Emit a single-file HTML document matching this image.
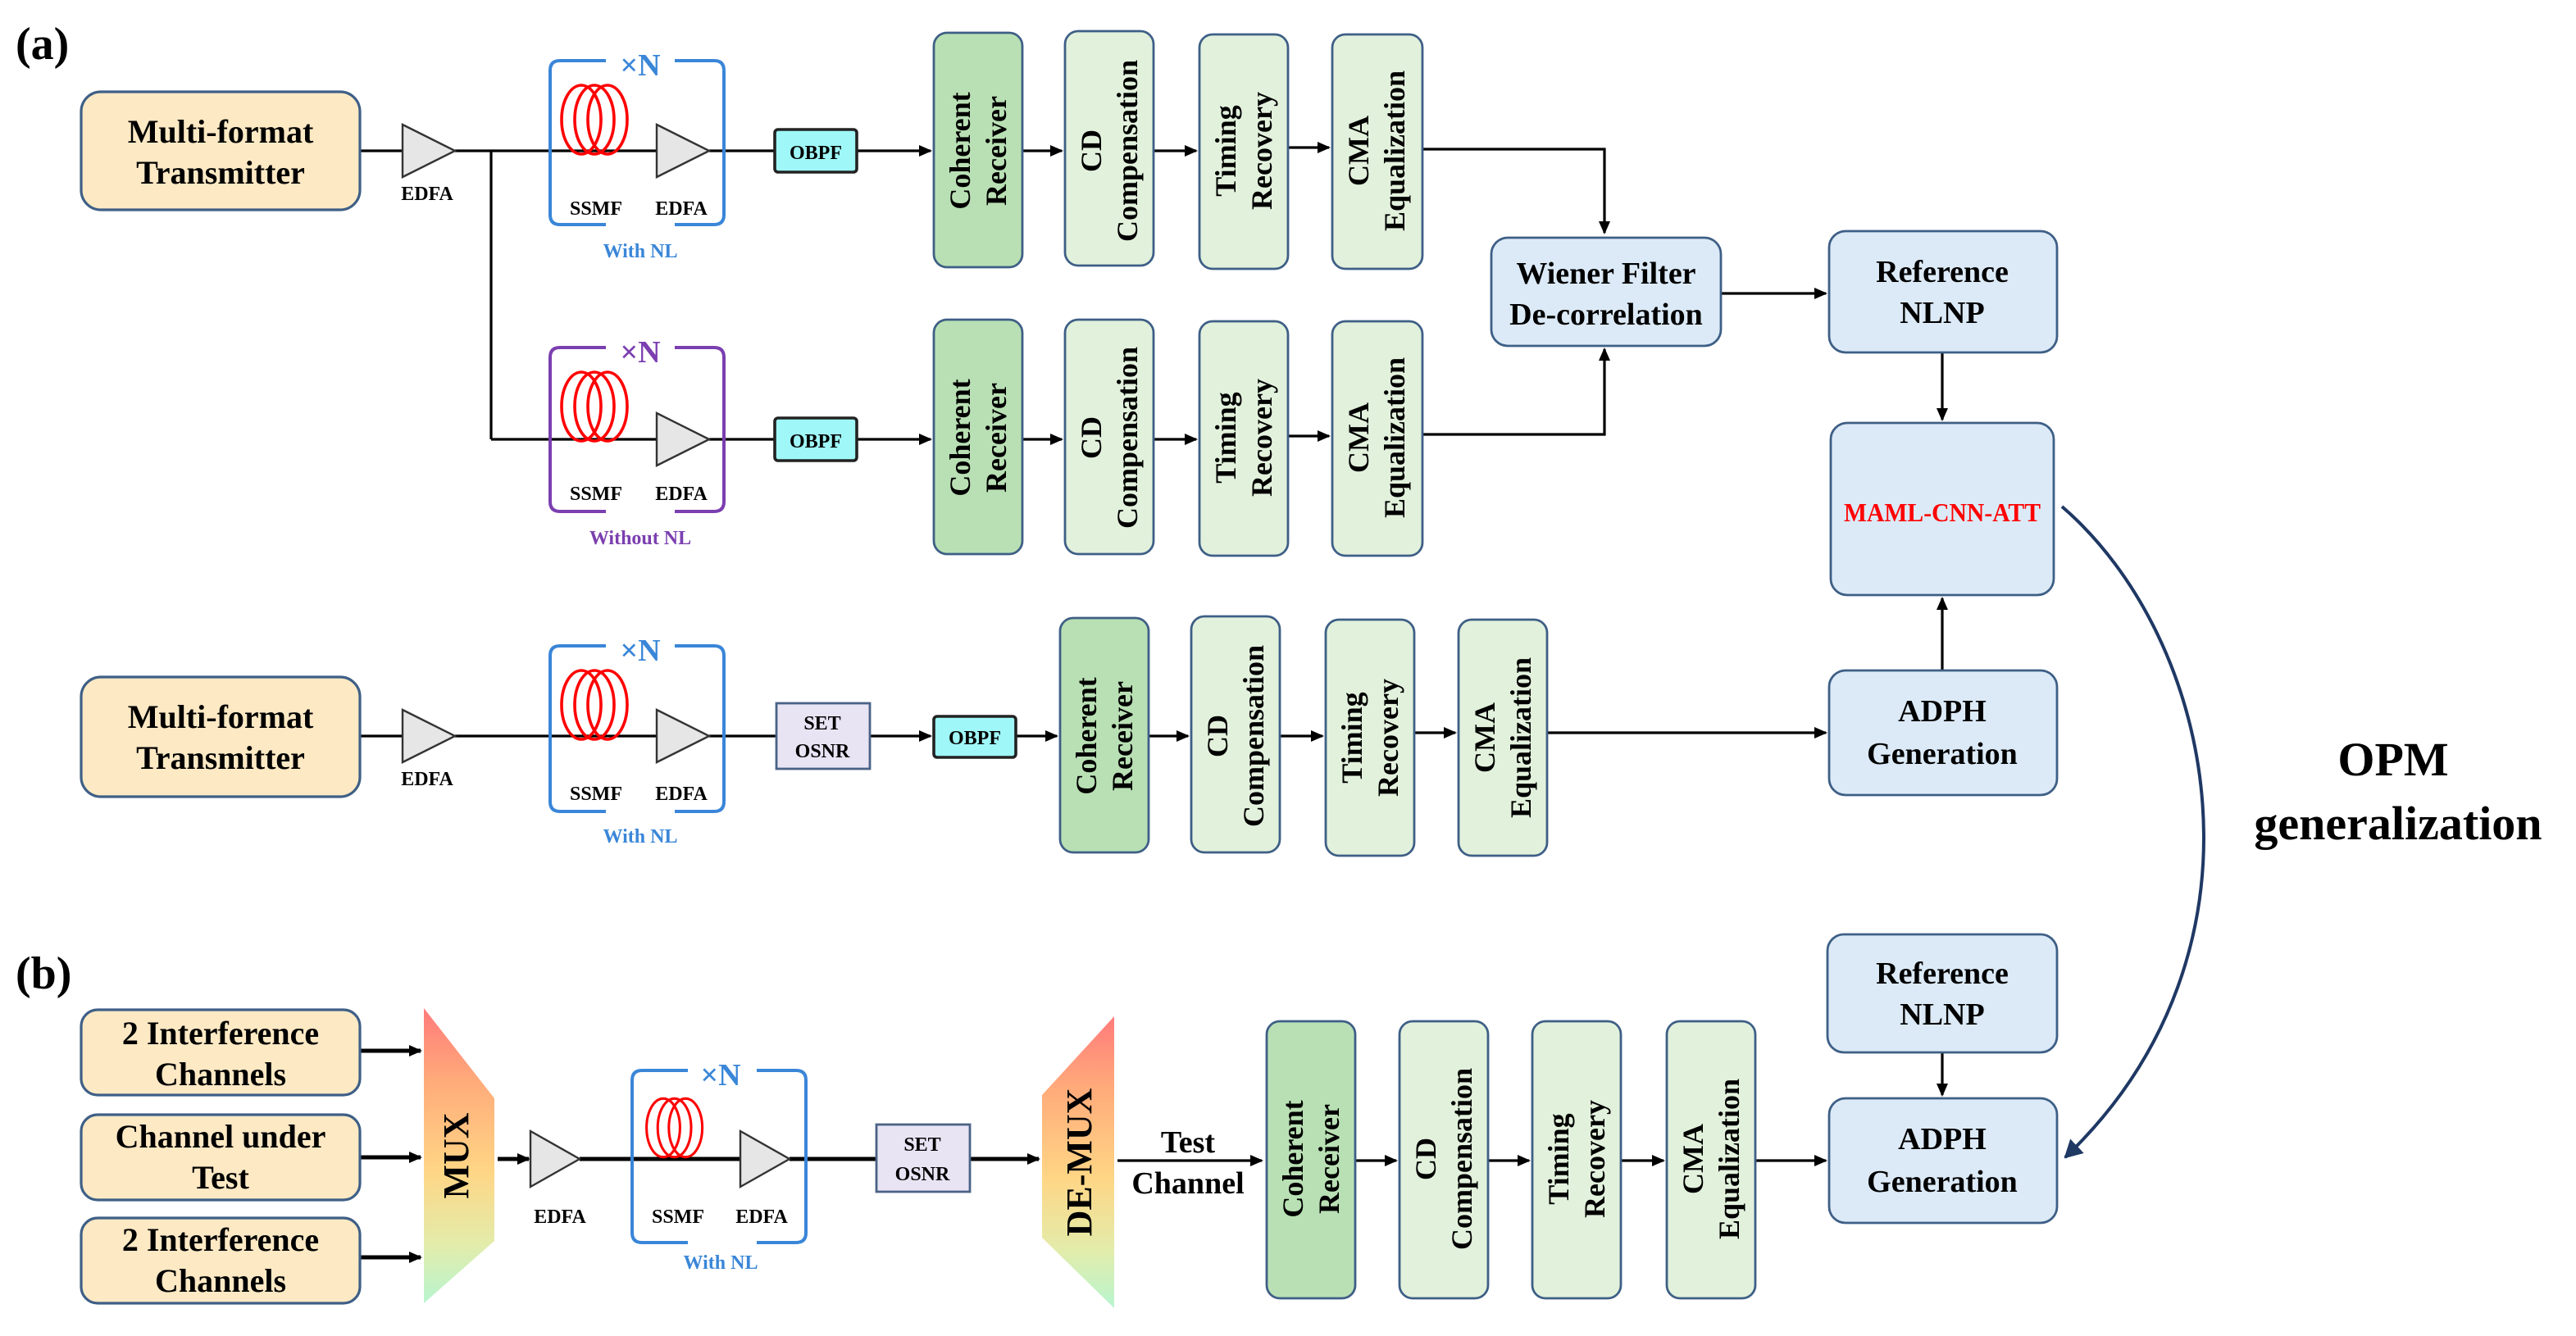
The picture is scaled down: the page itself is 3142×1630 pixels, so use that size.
<!DOCTYPE html>
<html><head><meta charset="utf-8"><style>
html,body{margin:0;padding:0;background:#fff;}
svg{display:block;}
text{font-family:"Liberation Serif",serif;font-weight:bold;}
</style></head><body>
<svg width="3142" height="1630" viewBox="0 0 1568 815" xmlns="http://www.w3.org/2000/svg">
<defs>
<marker id="ar" markerWidth="8" markerHeight="8" refX="7" refY="4" orient="auto" markerUnits="userSpaceOnUse"><path d="M0,0.5 L8,4 L0,7.5 z" fill="#000"/></marker>
<marker id="arn" markerWidth="12" markerHeight="12" refX="10" refY="6" orient="auto" markerUnits="userSpaceOnUse"><path d="M0,0 L11,6 L0,12 z" fill="#1f3864"/></marker>
<linearGradient id="gm" x1="0" y1="0" x2="0" y2="1">
<stop offset="0" stop-color="#ff7b7b"/><stop offset="0.25" stop-color="#ffab7a"/><stop offset="0.55" stop-color="#ffd585"/><stop offset="0.8" stop-color="#e3ecaa"/><stop offset="1" stop-color="#b8f5d0"/></linearGradient>
<g id="coil" fill="none" stroke="#f00" stroke-width="1.8">
<ellipse cx="0" cy="0" rx="12" ry="21"/><ellipse cx="8" cy="0" rx="12" ry="21"/><ellipse cx="16" cy="0" rx="12" ry="21"/></g>
</defs>

<text x="8" y="36" font-size="28">(a)</text>
<text x="8" y="603" font-size="28">(b)</text>

<g stroke="#000" stroke-width="1.6" fill="none">
<line x1="218" y1="92" x2="244" y2="92"/>
<line x1="276" y1="92" x2="400" y2="92"/>
<line x1="298" y1="92" x2="298" y2="268"/>
<line x1="298" y1="268" x2="400" y2="268"/>
<line x1="431" y1="92" x2="471" y2="92"/>
<line x1="431" y1="268" x2="471" y2="268"/>
<line x1="521" y1="92" x2="566" y2="92" marker-end="url(#ar)"/>
<line x1="521" y1="268" x2="566" y2="268" marker-end="url(#ar)"/>
<line x1="622" y1="92" x2="646" y2="92" marker-end="url(#ar)"/>
<line x1="702" y1="92" x2="728" y2="92" marker-end="url(#ar)"/>
<line x1="784" y1="90" x2="809" y2="90" marker-end="url(#ar)"/>
<line x1="622" y1="268" x2="646" y2="268" marker-end="url(#ar)"/>
<line x1="702" y1="268" x2="728" y2="268" marker-end="url(#ar)"/>
<line x1="784" y1="266" x2="809" y2="266" marker-end="url(#ar)"/>
<polyline points="866,91 977,91 977,142" marker-end="url(#ar)"/>
<polyline points="866,265 977,265 977,213" marker-end="url(#ar)"/>
<line x1="1048" y1="179" x2="1112" y2="179" marker-end="url(#ar)"/>
<line x1="1183" y1="215" x2="1183" y2="256" marker-end="url(#ar)"/>
<line x1="1183" y1="409" x2="1183" y2="365" marker-end="url(#ar)"/>
<line x1="218" y1="449" x2="244" y2="449"/>
<line x1="276" y1="449" x2="400" y2="449"/>
<line x1="431" y1="449" x2="472" y2="449"/>
<line x1="529" y1="449" x2="566" y2="449" marker-end="url(#ar)"/>
<line x1="618" y1="449" x2="643" y2="449" marker-end="url(#ar)"/>
<line x1="699" y1="449" x2="723" y2="449" marker-end="url(#ar)"/>
<line x1="779" y1="449" x2="805" y2="449" marker-end="url(#ar)"/>
<line x1="861" y1="447" x2="886" y2="447" marker-end="url(#ar)"/>
<line x1="942" y1="447" x2="1112" y2="447" marker-end="url(#ar)"/>
<line x1="218" y1="641" x2="255" y2="641" stroke-width="2.5" marker-end="url(#ar)"/>
<line x1="218" y1="706" x2="255" y2="706" stroke-width="2.5" marker-end="url(#ar)"/>
<line x1="218" y1="767" x2="255" y2="767" stroke-width="2.5" marker-end="url(#ar)"/>
<line x1="302" y1="707" x2="321" y2="707" stroke-width="2.5" marker-end="url(#ar)"/>
<line x1="352" y1="707" x2="452" y2="707" stroke-width="2.5"/>
<line x1="480" y1="707" x2="533" y2="707" stroke-width="2.5"/>
<line x1="590" y1="707" x2="632" y2="707" stroke-width="2.5" marker-end="url(#ar)"/>
<line x1="680" y1="708" x2="768" y2="708" marker-end="url(#ar)"/>
<line x1="825" y1="708" x2="850" y2="708" marker-end="url(#ar)"/>
<line x1="906" y1="708" x2="931" y2="708" marker-end="url(#ar)"/>
<line x1="987" y1="708" x2="1013" y2="708" marker-end="url(#ar)"/>
<line x1="1069" y1="708" x2="1112" y2="708" marker-end="url(#ar)"/>
<line x1="1183" y1="642" x2="1183" y2="668" marker-end="url(#ar)"/>
</g>

<g fill="#fde9c4" stroke="#3e5f86" stroke-width="1.6">
<rect x="48" y="56" width="170" height="72" rx="12"/>
<rect x="48" y="413" width="170" height="73" rx="12"/>
<rect x="48" y="616" width="170" height="52" rx="10"/>
<rect x="48" y="680" width="170" height="52" rx="10"/>
<rect x="48" y="743" width="170" height="52" rx="10"/>
</g>
<g font-size="20" text-anchor="middle">
<text x="133" y="87">Multi-format</text><text x="133" y="112">Transmitter</text>
<text x="133" y="444">Multi-format</text><text x="133" y="469">Transmitter</text>
<text x="133" y="637">2 Interference</text><text x="133" y="662">Channels</text>
<text x="133" y="700">Channel under</text><text x="133" y="725">Test</text>
<text x="133" y="763">2 Interference</text><text x="133" y="788">Channels</text>
</g>

<g fill="#e6e6e6" stroke="#333" stroke-width="1.2">
<path d="M244,76 L276,92 L244,108 z"/><path d="M399,76 L431,92 L399,108 z"/>
<path d="M399,252 L431,268 L399,284 z"/>
<path d="M244,433 L276,449 L244,465 z"/><path d="M399,433 L431,449 L399,465 z"/>
<path d="M322,690 L352,707 L322,724 z"/><path d="M450,690 L480,707 L450,724 z"/>
</g>
<use href="#coil" x="353" y="73"/>
<use href="#coil" x="353" y="248"/>
<use href="#coil" x="353" y="430"/>
<g transform="translate(403,688) scale(0.85)"><use href="#coil"/></g>

<g fill="none" stroke-width="2">
<path d="M368,37 L340,37 Q334,37 334,43 L334,131 Q334,137 340,137 L368,137 M410,37 L434,37 Q440,37 440,43 L440,131 Q440,137 434,137 L410,137" stroke="#3a86d8"/>
<path d="M368,212 L340,212 Q334,212 334,218 L334,306 Q334,312 340,312 L368,312 M410,212 L434,212 Q440,212 440,218 L440,306 Q440,312 434,312 L410,312" stroke="#7b3fb0"/>
<path d="M368,394 L340,394 Q334,394 334,400 L334,489 Q334,495 340,495 L368,495 M410,394 L434,394 Q440,394 440,400 L440,489 Q440,495 434,495 L410,495" stroke="#3a86d8"/>
<path d="M418,653 L390,653 Q384,653 384,659 L384,752 Q384,758 390,758 L418,758 M460,653 L484,653 Q490,653 490,659 L490,752 Q490,758 484,758 L460,758" stroke="#3a86d8"/>
</g>
<g text-anchor="middle">
<text x="389" y="46" font-size="19" fill="#3a86d8">×N</text>
<text x="389" y="221" font-size="19" fill="#7b3fb0">×N</text>
<text x="389" y="403" font-size="19" fill="#3a86d8">×N</text>
<text x="438" y="662" font-size="19" fill="#3a86d8">×N</text>
<g font-size="12" fill="#000">
<text x="259" y="122">EDFA</text><text x="259" y="479">EDFA</text>
<text x="362" y="131">SSMF</text><text x="414" y="131">EDFA</text>
<text x="362" y="305">SSMF</text><text x="414" y="305">EDFA</text>
<text x="362" y="488">SSMF</text><text x="414" y="488">EDFA</text>
<text x="340" y="746">EDFA</text><text x="412" y="746">SSMF</text><text x="463" y="746">EDFA</text>
</g>
<g font-size="12">
<text x="389" y="157" fill="#3a86d8">With NL</text>
<text x="389" y="332" fill="#7b3fb0">Without NL</text>
<text x="389" y="514" fill="#3a86d8">With NL</text>
<text x="438" y="774" fill="#3a86d8">With NL</text>
</g>
</g>

<g stroke="#222" stroke-width="1.8" fill="#9ff7f7">
<rect x="471" y="79" width="50" height="26" rx="2"/>
<rect x="471" y="255" width="50" height="26" rx="2"/>
<rect x="568" y="437" width="50" height="25" rx="2"/>
</g>
<g stroke="#4a6285" stroke-width="1.4" fill="#e8e4f4">
<rect x="472" y="429" width="57" height="40"/>
<rect x="533" y="686" width="57" height="41"/>
</g>
<g font-size="12" text-anchor="middle">
<text x="496" y="97">OBPF</text><text x="496" y="273">OBPF</text><text x="593" y="454">OBPF</text>
<text x="500" y="445">SET</text><text x="500" y="462">OSNR</text>
<text x="561" y="702">SET</text><text x="561" y="720">OSNR</text>
</g>

<path d="M257,615 L300,670 L300,757 L257,795 z" fill="url(#gm)"/>
<path d="M634,668 L678,620 L678,798 L634,755 z" fill="url(#gm)"/>
<text transform="translate(284,705) rotate(-90)" font-size="22" text-anchor="middle">MUX</text>
<text transform="translate(664,709) rotate(-90)" font-size="22" text-anchor="middle">DE-MUX</text>
<text x="723" y="703" font-size="19" text-anchor="middle">Test</text>
<text x="723" y="728" font-size="19" text-anchor="middle">Channel</text>

<g stroke="#3e5f86" stroke-width="1.4">
<g fill="#b9e0b4">
<rect x="568" y="20" width="54" height="143" rx="8"/>
<rect x="568" y="195" width="54" height="143" rx="8"/>
<rect x="645" y="377" width="54" height="143" rx="8"/>
<rect x="771" y="623" width="54" height="169" rx="8"/>
</g>
<g fill="#e2f1dc">
<rect x="648" y="19" width="54" height="143" rx="8"/><rect x="730" y="21" width="54" height="143" rx="8"/><rect x="811" y="21" width="55" height="143" rx="8"/>
<rect x="648" y="195" width="54" height="143" rx="8"/><rect x="730" y="196" width="54" height="143" rx="8"/><rect x="811" y="196" width="55" height="143" rx="8"/>
<rect x="725" y="376" width="54" height="144" rx="8"/><rect x="807" y="378" width="54" height="144" rx="8"/><rect x="888" y="378" width="54" height="144" rx="8"/>
<rect x="852" y="623" width="54" height="169" rx="8"/><rect x="933" y="623" width="54" height="169" rx="8"/><rect x="1015" y="623" width="54" height="169" rx="8"/>
</g>
<g fill="#dceaf7">
<rect x="908" y="145" width="140" height="66" rx="10"/>
<rect x="1114" y="141" width="139" height="74" rx="10"/>
<rect x="1115" y="258" width="136" height="105" rx="10"/>
<rect x="1114" y="409" width="139" height="76" rx="10"/>
<rect x="1113" y="570" width="140" height="72" rx="10"/>
<rect x="1114" y="670" width="139" height="76" rx="10"/>
</g>
</g>

<g font-size="18" text-anchor="middle">
<text transform="translate(595,92) rotate(-90)"><tspan x="0" y="-5">Coherent</tspan><tspan x="0" y="17">Receiver</tspan></text>
<text transform="translate(675,92) rotate(-90)"><tspan x="0" y="-5">CD</tspan><tspan x="0" y="17">Compensation</tspan></text>
<text transform="translate(757,92) rotate(-90)"><tspan x="0" y="-5">Timing</tspan><tspan x="0" y="17">Recovery</tspan></text>
<text transform="translate(838,92) rotate(-90)"><tspan x="0" y="-5">CMA</tspan><tspan x="0" y="17">Equalization</tspan></text>
<text transform="translate(595,267) rotate(-90)"><tspan x="0" y="-5">Coherent</tspan><tspan x="0" y="17">Receiver</tspan></text>
<text transform="translate(675,267) rotate(-90)"><tspan x="0" y="-5">CD</tspan><tspan x="0" y="17">Compensation</tspan></text>
<text transform="translate(757,267) rotate(-90)"><tspan x="0" y="-5">Timing</tspan><tspan x="0" y="17">Recovery</tspan></text>
<text transform="translate(838,267) rotate(-90)"><tspan x="0" y="-5">CMA</tspan><tspan x="0" y="17">Equalization</tspan></text>
<text transform="translate(672,449) rotate(-90)"><tspan x="0" y="-5">Coherent</tspan><tspan x="0" y="17">Receiver</tspan></text>
<text transform="translate(752,449) rotate(-90)"><tspan x="0" y="-5">CD</tspan><tspan x="0" y="17">Compensation</tspan></text>
<text transform="translate(834,450) rotate(-90)"><tspan x="0" y="-5">Timing</tspan><tspan x="0" y="17">Recovery</tspan></text>
<text transform="translate(915,450) rotate(-90)"><tspan x="0" y="-5">CMA</tspan><tspan x="0" y="17">Equalization</tspan></text>
<text transform="translate(798,707) rotate(-90)"><tspan x="0" y="-5">Coherent</tspan><tspan x="0" y="17">Receiver</tspan></text>
<text transform="translate(879,707) rotate(-90)"><tspan x="0" y="-5">CD</tspan><tspan x="0" y="17">Compensation</tspan></text>
<text transform="translate(960,707) rotate(-90)"><tspan x="0" y="-5">Timing</tspan><tspan x="0" y="17">Recovery</tspan></text>
<text transform="translate(1042,707) rotate(-90)"><tspan x="0" y="-5">CMA</tspan><tspan x="0" y="17">Equalization</tspan></text>
</g>
<g font-size="19" text-anchor="middle">
<text x="978" y="173">Wiener Filter</text><text x="978" y="198">De-correlation</text>
<text x="1183" y="172">Reference</text><text x="1183" y="197">NLNP</text>
<text x="1183" y="440">ADPH</text><text x="1183" y="466">Generation</text>
<text x="1183" y="600">Reference</text><text x="1183" y="625">NLNP</text>
<text x="1183" y="701">ADPH</text><text x="1183" y="727">Generation</text>
<text x="1183" y="318" fill="#f00" font-size="16" textLength="120" lengthAdjust="spacingAndGlyphs">MAML-CNN-ATT</text>
</g>

<path d="M1256,309 C1350,390 1390,580 1258,706" fill="none" stroke="#1f3864" stroke-width="2" marker-end="url(#arn)"/>
<text x="1458" y="473" font-size="29" text-anchor="middle">OPM</text>
<text x="1461" y="512" font-size="29" text-anchor="middle">generalization</text>
</svg>
</body></html>
